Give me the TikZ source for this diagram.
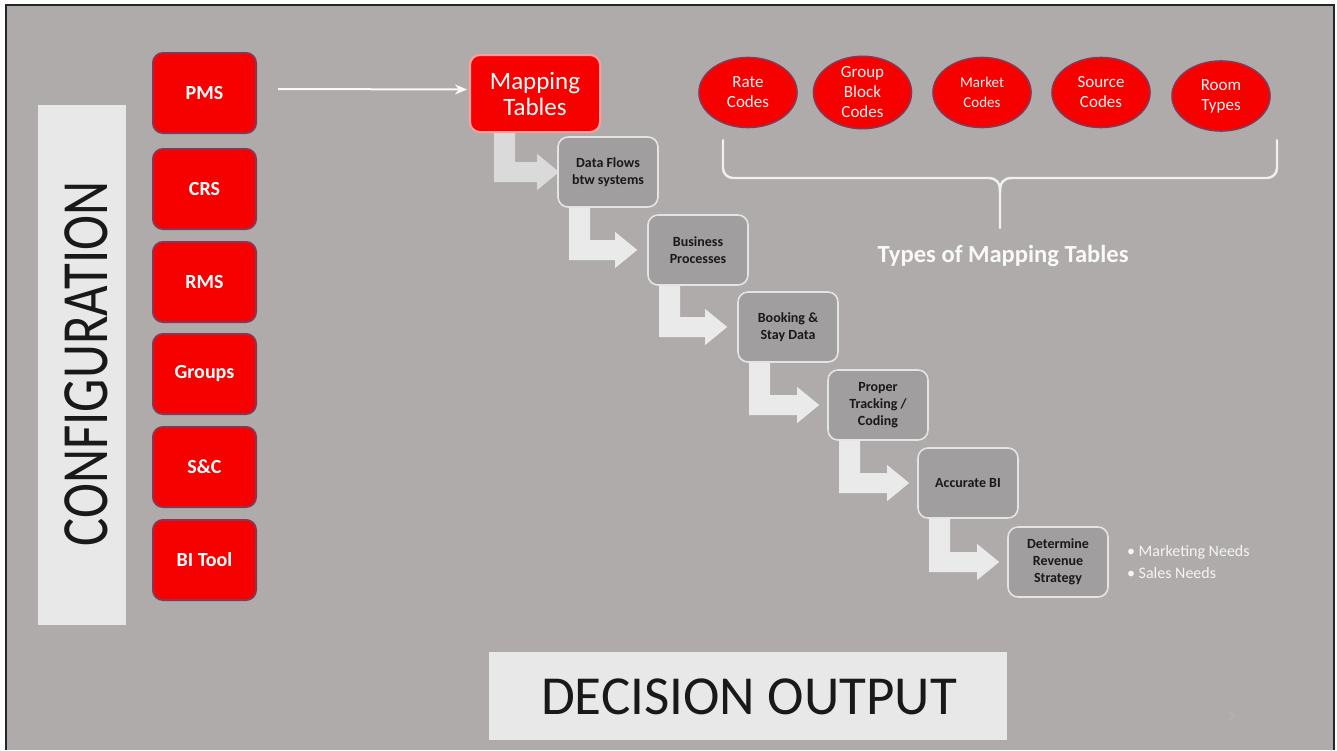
\documentclass[tikz,border=0pt]{standalone}
\usepackage{fontspec}
\setmainfont{Carlito}
\usetikzlibrary{calc,arrows.meta,shapes.geometric}
\pgfdeclarelayer{back}
\pgfdeclarelayer{mid}
\pgfsetlayers{back,mid,main}
\definecolor{bgc}{RGB}{174,171,170}
\definecolor{redf}{RGB}{246,0,0}
\definecolor{redb}{RGB}{140,52,80}
\definecolor{mapb}{RGB}{255,160,160}
\definecolor{boxg}{RGB}{160,158,158}
\definecolor{boxb}{RGB}{228,228,228}
\definecolor{arrowc}{RGB}{234,234,234}
\definecolor{arrowc1}{RGB}{218,218,218}
\definecolor{lightbox}{RGB}{232,232,232}
\definecolor{bracec}{RGB}{240,240,240}
\newcommand{\bentarrow}[5]{%
  \fill[#5] let \p1=(#1.south west), \p2=(#2.west) in
   (\x1+#3,\y1) -- (\x1+#3+10.5pt,\y1) -- (\x1+#3+10.5pt,\y2+5pt)
   -- (\x2-#4-11pt,\y2+5pt) -- (\x2-#4-11pt,\y2+9pt) -- (\x2-#4,\y2)
   -- (\x2-#4-11pt,\y2-9pt) -- (\x2-#4-11pt,\y2-5pt) -- (\x1+#3,\y2-5pt) -- cycle;}
\begin{document}
\begin{tikzpicture}[x=0.5pt,y=-0.5pt,
  redbox/.style={rectangle, rounded corners=5pt, fill=redf, draw=redb, line width=1pt,
    minimum width=51.5pt, minimum height=40pt, inner sep=0pt, text=white,
    font=\fontsize{10}{12}\selectfont\bfseries},
  mapbox/.style={rectangle, rounded corners=5pt, fill=redf, draw=mapb, line width=1pt,
    minimum width=65pt, minimum height=38.5pt, inner sep=0pt, text=white, align=center,
    font=\fontsize{12.5}{13}\selectfont},
  graybox/.style={rectangle, rounded corners=5pt, fill=boxg, draw=boxb, line width=0.8pt,
    minimum width=50pt, minimum height=35pt, inner sep=0pt, align=center, text=black!90,
    font=\fontsize{7}{8.5}\selectfont\bfseries},
  redell/.style={ellipse, fill=redf, draw=redb, line width=0.8pt, minimum width=49pt,
    minimum height=35pt, inner sep=0pt, align=center, text=white!95!red,
    font=\fontsize{8.5}{10}\selectfont},
  panel/.style={rectangle, fill=lightbox, draw=none, inner sep=0pt},
  bracestyle/.style={draw=bracec, line width=1.2pt, line cap=round}
]
\useasboundingbox (0,0) rectangle (1337,750);
\begin{pgfonlayer}{back}
  \fill[white] (0,0) rectangle (1337,750);
  \fill[bgc] (6,5) rectangle (1334,750);
  \draw[line width=1pt, black!85] (6,750) -- (6,5) -- (1334,5) -- (1334,750);
\end{pgfonlayer}

% left panel
\node[panel, minimum width=44pt, minimum height=260pt] (conf) at (82,365) {};
\node[rotate=90, font=\fontsize{33}{33}\selectfont, text=black!90] (conftext) at (86,364)
  {\scalebox{0.8}[1]{CONFIGURATION}};

% red system boxes
\node[redbox] (pms) at (204.5,93) {PMS};
\node[redbox] (crs) at (204.5,189) {CRS};
\node[redbox] (rms) at (204.5,282) {RMS};
\node[redbox] (groups) at (204.5,374) {Groups};
\node[redbox] (sc) at (204.5,467) {S\&C};
\node[redbox] (bi) at (204.5,560) {BI Tool};

% mapping tables
\node[mapbox] (map) at (535,93.5) {Mapping\\Tables};
\draw[white!95!gray, line width=1pt, -{Stealth[length=6pt,width=5pt]}]
  ($(pms.east)+(21,-4)$) -- ($(map.west)+(-2,-4)$);

% process boxes
\node[graybox] (flows) at (608,172) {Data Flows\\btw systems};
\node[graybox] (bus) at (698,250) {Business\\Processes};
\node[graybox] (book) at (788,327) {Booking \&\\Stay Data};
\node[graybox] (track) at (878,405) {Proper\\Tracking /\\Coding};
\node[graybox] (acc) at (968,483) {Accurate BI};
\node[graybox] (rev) at (1058,562) {Determine\\Revenue\\Strategy};

\begin{pgfonlayer}{mid}
  \bentarrow{map}{flows}{12.5pt}{-1pt}{arrowc1}
  \bentarrow{flows}{bus}{6pt}{5pt}{arrowc}
  \bentarrow{bus}{book}{6pt}{5pt}{arrowc}
  \bentarrow{book}{track}{6pt}{4pt}{arrowc}
  \bentarrow{track}{acc}{6pt}{4pt}{arrowc}
  \bentarrow{acc}{rev}{6pt}{4pt}{arrowc}
\end{pgfonlayer}

\node[anchor=west, align=left, text=white!92!gray, font=\fontsize{8}{11}\selectfont]
  (needs) at (1120,562) {\textbullet\ Marketing Needs\\ \textbullet\ Sales Needs};

% mapping table types
\node[redell] (rate) at (748,92.5) {Rate\\Codes};
\node[redell] (grp) at (862.5,92.5) {Group\\Block\\Codes};
\node[redell, font=\fontsize{7.5}{10}\selectfont] (market) at (982,92.5) {Market\\Codes};
\node[redell] (source) at (1101,92.5) {Source\\Codes};
\node[redell] (room) at (1221,96) {Room\\Types};

\coordinate (bl) at (723,140);
\coordinate (br) at (1277,140);
\coordinate (bt) at (1000,228);
\draw[bracestyle, rounded corners=5pt] (bl) -- (723,178) -- (988,178);
\draw[bracestyle] (988,178) .. controls (997,178) and (1000,183) .. (1000,192) -- (bt);
\draw[bracestyle, rounded corners=5pt] (br) -- (1277,178) -- (1012,178);
\draw[bracestyle] (1012,178) .. controls (1003,178) and (1000,183) .. (1000,192);
\node[text=white!95!gray, font=\fontsize{12.3}{14}\selectfont\bfseries] (types) at (1003,256)
  {Types of Mapping Tables};

% decision output
\node[panel, minimum width=259pt, minimum height=44pt] (dec) at (748,696) {};
\node[font=\fontsize{27.5}{29}\selectfont, text=black!90] (dectext) at (749,697) {DECISION OUTPUT};

\node[text=bgc!85!white, font=\fontsize{6}{7}\selectfont] (pnum) at (1232,718) {7};
\end{tikzpicture}
\end{document}
